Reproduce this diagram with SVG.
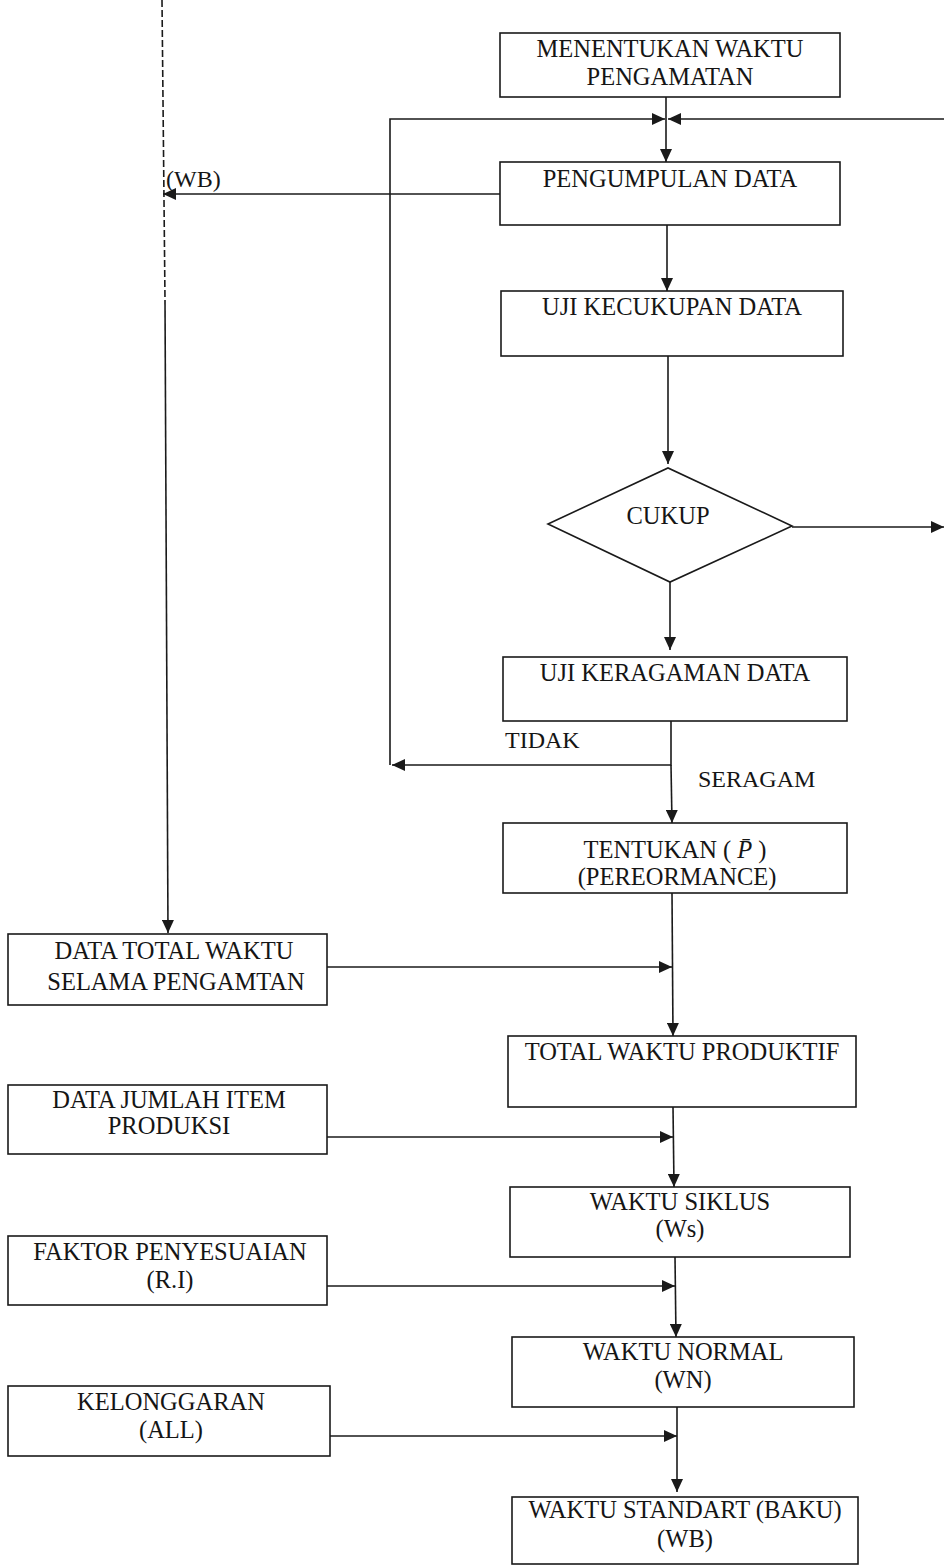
<svg xmlns="http://www.w3.org/2000/svg" width="946" height="1566" viewBox="0 0 946 1566">
<defs>
<style>
.box{fill:none;stroke:#1a1a1a;stroke-width:1.6}
.t{font-family:"Liberation Serif","Times New Roman",serif;font-size:24.5px;fill:#151515;text-anchor:middle}
.lb{font-family:"Liberation Serif","Times New Roman",serif;font-size:24px;fill:#151515}
.c{fill:none;stroke:#1a1a1a;stroke-width:1.6}
</style>
<marker id="ah" markerUnits="userSpaceOnUse" markerWidth="14" markerHeight="12" refX="13" refY="6" orient="auto">
<path d="M0,0 L13,6 L0,12 Z" fill="#1a1a1a"/>
</marker>
</defs>
<rect width="946" height="1566" fill="#ffffff"/>

<g id="connectors">
<line class="c" x1="666" y1="97" x2="666" y2="162" marker-end="url(#ah)"/>
<polyline class="c" points="390,765 390,119 665,119" marker-end="url(#ah)"/>
<line class="c" x1="944" y1="119" x2="668" y2="119" marker-end="url(#ah)"/>
<line class="c" x1="500" y1="194" x2="163" y2="194" marker-end="url(#ah)"/>
<line class="c" x1="162" y1="0" x2="165" y2="300" stroke-dasharray="7 3"/>
<line class="c" x1="165" y1="300" x2="168" y2="933" marker-end="url(#ah)"/>
<line class="c" x1="667" y1="225" x2="667" y2="291" marker-end="url(#ah)"/>
<line class="c" x1="668" y1="356" x2="668" y2="464" marker-end="url(#ah)"/>
<line class="c" x1="792" y1="527" x2="944" y2="527" marker-end="url(#ah)"/>
<line class="c" x1="670" y1="582" x2="670" y2="650" marker-end="url(#ah)"/>
<polyline class="c" points="671,721 671,765 392,765" marker-end="url(#ah)"/>
<line class="c" x1="671" y1="765" x2="672" y2="823" marker-end="url(#ah)"/>
<line class="c" x1="672" y1="893" x2="673" y2="1036" marker-end="url(#ah)"/>
<line class="c" x1="327" y1="967" x2="672" y2="967" marker-end="url(#ah)"/>
<line class="c" x1="673" y1="1107" x2="674" y2="1187" marker-end="url(#ah)"/>
<line class="c" x1="327" y1="1137" x2="673" y2="1137" marker-end="url(#ah)"/>
<line class="c" x1="675" y1="1257" x2="676" y2="1337" marker-end="url(#ah)"/>
<line class="c" x1="327" y1="1286" x2="675" y2="1286" marker-end="url(#ah)"/>
<line class="c" x1="677" y1="1407" x2="677" y2="1492" marker-end="url(#ah)"/>
<line class="c" x1="330" y1="1436" x2="677" y2="1436" marker-end="url(#ah)"/>
</g>

<g id="labels">
<text class="lb" x="166" y="187">(WB)</text>
<text class="lb" x="505" y="748">TIDAK</text>
<text class="lb" x="698" y="787">SERAGAM</text>
</g>

<g id="n1"><rect class="box" x="500" y="33" width="340" height="64"/>
<text class="t" x="670" y="57">MENENTUKAN WAKTU</text>
<text class="t" x="670" y="85">PENGAMATAN</text></g>

<g id="n2"><rect class="box" x="500" y="162" width="340" height="63"/>
<text class="t" x="670" y="187">PENGUMPULAN DATA</text></g>

<g id="n3"><rect class="box" x="501" y="291" width="342" height="65"/>
<text class="t" x="672" y="315">UJI KECUKUPAN DATA</text></g>

<g id="n4"><polygon class="box" points="548,524 668,468 792,526 670,582"/>
<text class="t" x="668" y="524">CUKUP</text></g>

<g id="n5"><rect class="box" x="503" y="657" width="344" height="64"/>
<text class="t" x="675" y="681">UJI KERAGAMAN DATA</text></g>

<g id="n6"><rect class="box" x="503" y="823" width="344" height="70"/>
<text class="t" x="675" y="858">TENTUKAN ( <tspan font-style="italic">P̄</tspan> )</text>
<text class="t" x="677" y="885">(PEREORMANCE)</text></g>

<g id="n7"><rect class="box" x="508" y="1036" width="348" height="71"/>
<text class="t" x="682" y="1060">TOTAL WAKTU PRODUKTIF</text></g>

<g id="n8"><rect class="box" x="510" y="1187" width="340" height="70"/>
<text class="t" x="680" y="1210">WAKTU SIKLUS</text>
<text class="t" x="680" y="1237">(Ws)</text></g>

<g id="n9"><rect class="box" x="512" y="1337" width="342" height="70"/>
<text class="t" x="683" y="1360">WAKTU NORMAL</text>
<text class="t" x="683" y="1388">(WN)</text></g>

<g id="n10"><rect class="box" x="512" y="1497" width="346" height="67"/>
<text class="t" x="685" y="1518">WAKTU STANDART (BAKU)</text>
<text class="t" x="685" y="1547">(WB)</text></g>

<g id="n11"><rect class="box" x="8" y="934" width="319" height="71"/>
<text class="t" x="174" y="959">DATA TOTAL WAKTU</text>
<text class="t" x="176" y="990">SELAMA PENGAMTAN</text></g>

<g id="n12"><rect class="box" x="8" y="1085" width="319" height="69"/>
<text class="t" x="169" y="1108">DATA JUMLAH ITEM</text>
<text class="t" x="169" y="1134">PRODUKSI</text></g>

<g id="n13"><rect class="box" x="8" y="1236" width="319" height="69"/>
<text class="t" x="170" y="1260">FAKTOR PENYESUAIAN</text>
<text class="t" x="170" y="1288">(R.I)</text></g>

<g id="n14"><rect class="box" x="8" y="1386" width="322" height="70"/>
<text class="t" x="171" y="1410">KELONGGARAN</text>
<text class="t" x="171" y="1438">(ALL)</text></g>
</svg>
